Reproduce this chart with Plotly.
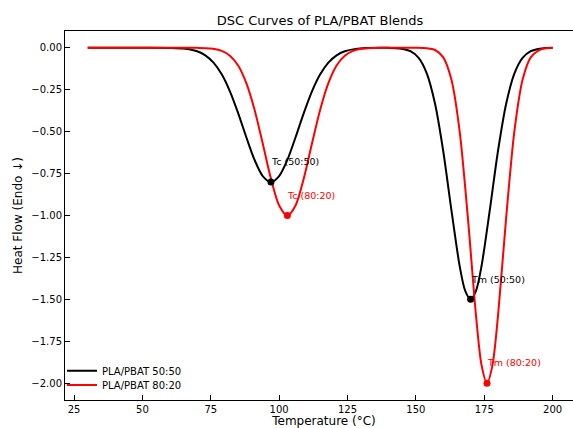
import plotly.graph_objects as go

# --- data ---
temp_5050 = [30, 50, 60, 65, 70, 73, 76, 79, 82, 85, 88, 91, 94, 97, 100, 103, 106, 109, 112, 115,
             118, 121, 124, 128, 132, 136, 140, 144, 148, 151, 154, 157, 160, 163, 166, 168, 170,
             172, 174, 177, 180, 183, 186, 189, 192, 196, 200]
heat_5050 = [0, 0, -0.0008, -0.0048, -0.0209, -0.0449, -0.0882, -0.1583, -0.2598, -0.3894, -0.5336,
             -0.6683, -0.7648, -0.8, -0.7648, -0.6683, -0.5336, -0.3894, -0.2598, -0.1583, -0.0882,
             -0.0449, -0.0209, -0.0066, -0.0018, -0.0004, -0.0005, -0.0037, -0.0203, -0.0606,
             -0.154, -0.334, -0.617, -0.970, -1.301, -1.448, -1.5, -1.448, -1.301, -0.970, -0.617,
             -0.334, -0.154, -0.0606, -0.0203, -0.0037, -0.0005]

temp_8020 = [30, 60, 70, 75, 79, 82, 85, 88, 91, 94, 97, 100, 103, 106, 109, 112, 115, 118, 121,
             124, 127, 130, 134, 138, 142, 146, 150, 154, 157, 160, 163, 166, 169, 172, 174, 176,
             178, 180, 183, 186, 189, 192, 196, 200]
heat_8020 = [0, 0, -0.0005, -0.0044, -0.0186, -0.0473, -0.106, -0.211, -0.369, -0.571, -0.780,
             -0.940, -1.0, -0.940, -0.780, -0.571, -0.369, -0.211, -0.106, -0.0473, -0.0186,
             -0.0064, -0.0013, 0, 0, 0, 0, -0.0024, -0.0133, -0.0571, -0.191, -0.499, -1.013,
             -1.601, -1.892, -2.0, -1.892, -1.601, -1.013, -0.499, -0.191, -0.0571, -0.0077, -0.0007]

peak_T_5050 = [97, 170]
peak_H_5050 = [-0.8, -1.5]
peak_T_8020 = [103, 176]
peak_H_8020 = [-1.0, -2.0]
peak_labels_5050 = ["Tc (50:50)", "Tm (50:50)"]
peak_labels_8020 = ["Tc (80:20)", "Tm (80:20)"]

x_ticks = [25, 50, 75, 100, 125, 150, 175, 200]
y_ticks = [0, -0.25, -0.5, -0.75, -1.0, -1.25, -1.5, -1.75, -2.0]
y_tick_text = ["0.00", "\u22120.25", "\u22120.50", "\u22120.75", "\u22121.00",
               "\u22121.25", "\u22121.50", "\u22121.75", "\u22122.00"]

FONT = "DejaVu Sans"

fig = go.Figure()
fig.add_trace(go.Scatter(x=temp_5050, y=heat_5050, mode="lines", name="PLA/PBAT 50:50",
                         line=dict(color="black", width=2, shape="spline", smoothing=0.8),
                         legend="legend"))
fig.add_trace(go.Scatter(x=temp_8020, y=heat_8020, mode="lines", name="PLA/PBAT 80:20",
                         line=dict(color="red", width=2, shape="spline", smoothing=0.8),
                         legend="legend2"))
fig.add_trace(go.Scatter(x=peak_T_5050, y=peak_H_5050, mode="markers", showlegend=False,
                         marker=dict(color="black", size=7)))
fig.add_trace(go.Scatter(x=peak_T_8020, y=peak_H_8020, mode="markers", showlegend=False,
                         marker=dict(color="red", size=7)))

for xs, ys, labs, col in [(peak_T_5050, peak_H_5050, peak_labels_5050, "black"),
                          (peak_T_8020, peak_H_8020, peak_labels_8020, "red")]:
    for xv, yv, lab in zip(xs, ys, labs):
        fig.add_annotation(x=xv, y=yv + 0.1, text=lab, showarrow=False,
                           xanchor="left", yanchor="bottom", xshift=-2, yshift=-4,
                           font=dict(family=FONT, size=9.5, color=col))

axis_common = dict(showline=True, linecolor="black", linewidth=1,
                   ticks="inside", ticklen=5, tickwidth=1, tickcolor="black",
                   showgrid=False, zeroline=False,
                   tickfont=dict(family=FONT, size=10, color="black"))

# plot area runs from x=65 past the right window edge (right spine is off-screen)
PLOT_W = 518
X_MIN = 21.7
X_MAX = X_MIN + PLOT_W / 2.735

fig.update_xaxes(range=[X_MIN, X_MAX], tickvals=x_ticks, mirror=True,
                 title=dict(text="Temperature (°C)", font=dict(family=FONT, size=12, color="black"),
                            standoff=0),
                 automargin=False, **axis_common)
fig.update_yaxes(range=[-2.1, 0.1], tickvals=y_ticks, ticktext=y_tick_text, mirror=True,
                 title=dict(text="Heat Flow (Endo \u2193)", font=dict(family=FONT, size=12, color="black"),
                            standoff=6),
                 automargin=False, **axis_common)

legend_common = dict(bgcolor="rgba(0,0,0,0)", borderwidth=0, xanchor="left", yanchor="middle",
                     font=dict(family=FONT, size=10, color="black"))
fig.update_layout(
    width=65 + PLOT_W, height=428,
    margin=dict(l=65, r=0, t=31, b=28),
    paper_bgcolor="white", plot_bgcolor="white",
    title=dict(text="DSC Curves of PLA/PBAT Blends", x=(320 - 65) / PLOT_W, xref="paper",
               xanchor="center", y=1 - 20 / 428, yref="container", yanchor="middle",
               font=dict(family=FONT, size=13, color="black")),
    legend=dict(x=-3 / PLOT_W, y=(400 - 370.7) / 369, **legend_common),
    legend2=dict(x=-3 / PLOT_W, y=(400 - 385) / 369, **legend_common),
)

# remove the default page margin and scrollbars so the figure sits at the window's top-left
page_js = ("document.documentElement.style.overflow='hidden';"
           "document.body.style.overflow='hidden';"
           "document.body.style.margin='0';")
fig.write_html("out.html", post_script=page_js, config={"displayModeBar": False})
